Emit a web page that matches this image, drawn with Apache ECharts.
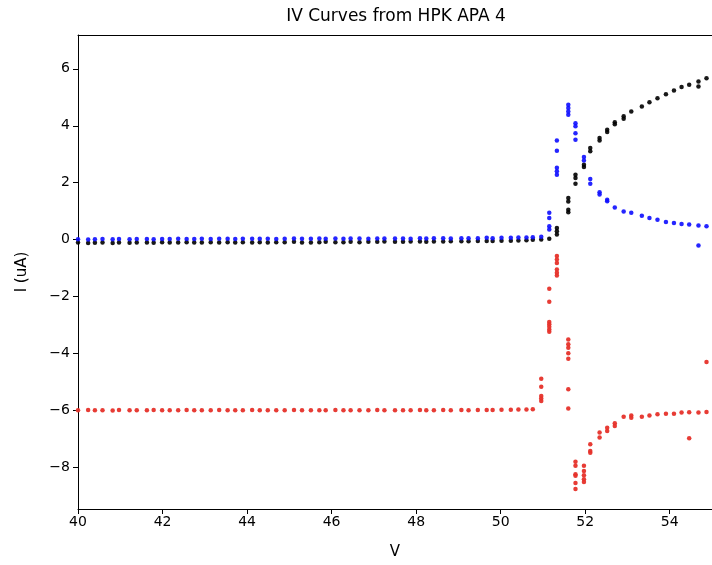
<!DOCTYPE html>
<html>
<head>
<meta charset="utf-8">
<script src="https://cdn.jsdelivr.net/npm/echarts@6/dist/echarts.min.js"></script>
<style>
html,body{margin:0;padding:0;background:#fff;overflow:hidden;}
#chart{width:712px;height:565px;}
</style>
</head>
<body>
<div id="chart"></div>
<script>
// ---- Data ----
const titleText = 'IV Curves from HPK APA 4';
const xTicks = [40, 42, 44, 46, 48, 50, 52, 54];
const yTicks = [-8, -6, -4, -2, 0, 2, 4, 6];

// Voltages of the flat (pre-breakdown) region
const flatV = [40.0, 40.24, 40.4, 40.58, 40.82, 40.97, 41.22, 41.39, 41.63, 41.79,
  41.99, 42.17, 42.37, 42.57, 42.75, 42.93, 43.14, 43.34, 43.54, 43.72,
  43.9, 44.12, 44.3, 44.49, 44.69, 44.89, 45.11, 45.3, 45.51, 45.71,
  45.86, 46.09, 46.28, 46.45, 46.66, 46.87, 47.08, 47.25, 47.5, 47.69,
  47.87, 48.09, 48.24, 48.42, 48.64, 48.82, 49.07, 49.24, 49.46, 49.67,
  49.81, 50.02, 50.24, 50.42, 50.61, 50.76, 50.96, 51.15];

const blackFlatI = [-0.1, -0.12, -0.11, -0.1, -0.12, -0.1, -0.11, -0.1, -0.1, -0.11,
  -0.09, -0.1, -0.1, -0.09, -0.1, -0.1, -0.09, -0.1, -0.09, -0.1,
  -0.09, -0.1, -0.09, -0.1, -0.09, -0.09, -0.08, -0.1, -0.1, -0.09,
  -0.08, -0.09, -0.09, -0.08, -0.09, -0.08, -0.08, -0.07, -0.08, -0.08,
  -0.07, -0.07, -0.08, -0.07, -0.07, -0.06, -0.06, -0.06, -0.05, -0.05,
  -0.05, -0.04, -0.04, -0.03, -0.02, -0.01, 0.0, 0.03];

const blueFlatI = [0.01, 0.0, 0.01, 0.02, 0.01, 0.02, 0.01, 0.02, 0.02, 0.01,
  0.02, 0.02, 0.03, 0.02, 0.02, 0.03, 0.02, 0.03, 0.03, 0.02,
  0.03, 0.03, 0.03, 0.03, 0.02, 0.03, 0.04, 0.03, 0.03, 0.04,
  0.03, 0.04, 0.03, 0.04, 0.04, 0.03, 0.04, 0.04, 0.04, 0.04,
  0.03, 0.05, 0.04, 0.05, 0.05, 0.04, 0.05, 0.05, 0.05, 0.06,
  0.05, 0.06, 0.06, 0.07, 0.07, 0.08, 0.1];

const redFlatI = [-6.0, -5.99, -6.0, -6.0, -6.01, -5.99, -6.0, -6.0, -6.0, -5.99,
  -6.0, -6.0, -6.0, -5.99, -6.0, -6.0, -6.0, -5.99, -6.0, -6.0,
  -6.0, -5.99, -6.0, -6.0, -6.0, -6.0, -5.99, -6.0, -6.0, -6.0,
  -6.0, -5.99, -6.0, -6.0, -6.0, -6.0, -5.99, -6.0, -6.0, -6.0,
  -6.0, -5.99, -6.0, -6.0, -5.99, -6.0, -5.99, -6.0, -5.99, -5.99,
  -5.99, -5.98, -5.98, -5.97, -5.97, -5.96];

// Voltages of the breakdown / post-breakdown region
const tailV = [50.96, 51.15, 51.33, 51.6, 51.77, 51.97, 52.12, 52.34, 52.52, 52.7,
  52.91, 53.09, 53.34, 53.52, 53.71, 53.91, 54.1, 54.28, 54.46, 54.68, 54.87];

const blackTailI = [[], [], [0.41, 0.29, 0.18], [1.46, 1.34, 1.05, 0.96], [2.28, 2.16, 1.96],
  [2.63, 2.55], [3.22, 3.10], [3.57, 3.48], [3.86, 3.78], [4.12, 4.05],
  [4.33, 4.25], [4.50], [4.68], [4.83], [4.97], [5.11], [5.24], [5.36], [5.44],
  [5.56, 5.38], [5.67]];

const blueTailI = [[], [0.94, 0.76, 0.47, 0.35], [3.48, 3.12, 2.52, 2.40, 2.28],
  [4.74, 4.62, 4.50, 4.39], [4.09, 3.98, 3.74, 3.51], [2.90, 2.78], [2.13, 1.96],
  [1.66, 1.58], [1.40, 1.35], [1.13], [0.99], [0.94], [0.84], [0.76], [0.70],
  [0.62], [0.58], [0.55], [0.53], [0.49, -0.21], [0.47]];

const redTailI = [[-4.89, -5.17, -5.50, -5.59, -5.67],
  [-1.73, -2.19, -2.90, -2.98, -3.06, -3.16, -3.24],
  [-0.58, -0.70, -0.82, -1.05, -1.17, -1.26],
  [-3.51, -3.68, -3.80, -4.00, -4.19, -5.26, -5.94],
  [-7.81, -7.95, -8.25, -8.30, -8.56, -8.77],
  [-7.95, -8.13, -8.28, -8.42, -8.52],
  [-7.19, -7.43, -7.49], [-6.78, -6.96], [-6.61, -6.73], [-6.46, -6.55],
  [-6.23], [-6.18, -6.26], [-6.23], [-6.18], [-6.14], [-6.12], [-6.12],
  [-6.08], [-6.07, -6.98], [-6.08], [-6.06, -4.30]];

// ---- Build series data ----
function build(flatI, tailI) {
  const pts = [];
  flatI.forEach((y, i) => pts.push([flatV[i], y]));
  tailI.forEach((ys, i) => ys.forEach(y => pts.push([tailV[i], y])));
  return pts;
}
const blackData = build(blackFlatI, blackTailI);
const blueData = build(blueFlatI, blueTailI);
const redData = build(redFlatI, redTailI);

const FONT = 'DejaVu Sans';
const minus = v => String(v).replace('-', '\u2212');

const chart = echarts.init(document.getElementById('chart'), null, {renderer: 'canvas'});
chart.setOption({
  animation: false,
  backgroundColor: '#fff',
  grid: {left: 78, width: 638, top: 35, height: 475, show: false, containLabel: false},
  graphic: [{
    type: 'text', x: 396, y: 17,
    style: {text: titleText, textAlign: 'center', textVerticalAlign: 'middle',
      font: '17px "DejaVu Sans"', fill: '#000'}
  }],
  xAxis: [{
    type: 'value', min: 40, max: 55, position: 'bottom',
    name: 'V', nameLocation: 'middle', nameGap: 36,
    nameTextStyle: {fontFamily: FONT, fontSize: 15, color: '#000'},
    axisLine: {show: true, onZero: false, lineStyle: {color: '#000', width: 1}},
    axisTick: {show: true, length: 5, lineStyle: {color: '#000'}, customValues: xTicks},
    axisLabel: {fontFamily: FONT, fontSize: 14, color: '#000', margin: 6, customValues: xTicks},
    splitLine: {show: false}
  }, {
    type: 'value', min: 40, max: 55, position: 'top',
    axisLine: {show: true, onZero: false, lineStyle: {color: '#000', width: 1}},
    axisTick: {show: false}, axisLabel: {show: false}, splitLine: {show: false}
  }],
  yAxis: {
    type: 'value', min: -9.47, max: 7.19,
    name: 'I (uA)', nameLocation: 'middle', nameGap: 48, nameRotate: 90,
    nameTextStyle: {fontFamily: FONT, fontSize: 15, color: '#000'},
    axisLine: {show: true, onZero: false, lineStyle: {color: '#000', width: 1}},
    axisTick: {show: true, length: 5, lineStyle: {color: '#000'}, customValues: yTicks},
    axisLabel: {fontFamily: FONT, fontSize: 14, color: '#000', margin: 8, customValues: yTicks,
      formatter: v => minus(v)},
    splitLine: {show: false}
  },
  series: [
    {type: 'scatter', name: 'black', data: blackData, symbol: 'circle', symbolSize: 4.5,
      itemStyle: {color: '#000', opacity: 0.9}},
    {type: 'scatter', name: 'blue', data: blueData, symbol: 'circle', symbolSize: 4.5,
      itemStyle: {color: '#0d0dff', opacity: 0.9}},
    {type: 'scatter', name: 'red', data: redData, symbol: 'circle', symbolSize: 4.5,
      itemStyle: {color: '#e6322a', opacity: 0.95}}
  ]
});
</script>
</body>
</html>
